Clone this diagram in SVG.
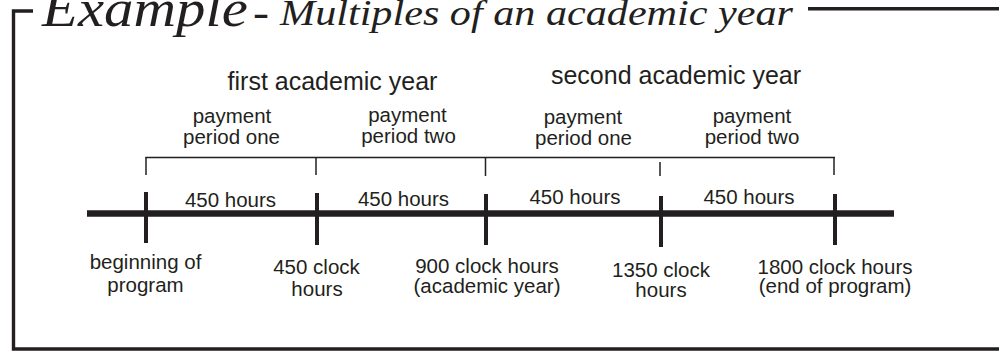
<svg xmlns="http://www.w3.org/2000/svg" width="999" height="352" viewBox="0 0 999 352">
  <style>
    .ink { fill: #231f20; }
    .lbl { font-family: "Liberation Sans", Arial, sans-serif; font-size: 20.5px; fill: #231f20; text-anchor: middle; }
    .year { font-family: "Liberation Sans", Arial, sans-serif; font-size: 25px; fill: #231f20; text-anchor: middle; }
    .title { font-family: "Liberation Serif", "Times New Roman", serif; font-style: italic; fill: #231f20; }
    .frame { stroke: #231f20; stroke-width: 3.4; fill: none; }
    .axis { stroke: #231f20; stroke-width: 6.5; fill: none; }
    .tick { stroke: #231f20; stroke-width: 4; fill: none; }
    .brace { stroke: #231f20; stroke-width: 1.5; fill: none; }
  </style>

  <rect width="999" height="352" fill="#ffffff"/>

  <!-- outer frame: open corner at top left, line continues right of the title -->
  <g id="frame">
    <polyline class="frame" points="33,11 13.5,11 13.5,349 999,349"/>
    <line class="frame" x1="808" y1="8.8" x2="999" y2="8.8"/>
  </g>

  <!-- heading -->
  <g id="title">
    <text class="title" x="42" y="26" font-size="52" textLength="206" lengthAdjust="spacingAndGlyphs">Example</text>
    <text class="title" x="253" y="27" font-size="44" textLength="16" lengthAdjust="spacingAndGlyphs">-</text>
    <text class="title" x="280" y="25" font-size="35" textLength="513" lengthAdjust="spacingAndGlyphs">Multiples of an academic year</text>
  </g>

  <!-- time axis, milestone ticks and payment-period bracket -->
  <g id="connectors">
    <line class="axis" x1="87" y1="213.5" x2="894" y2="213.5"/>
    <line class="tick" x1="146" y1="192" x2="146" y2="243"/>
    <line class="tick" x1="317" y1="193" x2="317" y2="245"/>
    <line class="tick" x1="486" y1="194" x2="486" y2="245"/>
    <line class="tick" x1="661" y1="196" x2="661" y2="247"/>
    <line class="tick" x1="835" y1="194" x2="835" y2="245"/>

    <line class="brace" x1="145.5" y1="157.5" x2="835" y2="157.5"/>
    <line class="brace" x1="146" y1="157" x2="146" y2="175"/>
    <line class="brace" x1="316" y1="157" x2="316" y2="175"/>
    <line class="brace" x1="485.5" y1="157" x2="485.5" y2="176"/>
    <line class="brace" x1="660" y1="162" x2="660" y2="176"/>
    <line class="brace" x1="834" y1="157" x2="834" y2="175"/>
  </g>

  <!-- academic years -->
  <g id="year-1"><text class="year" x="332.5" y="90">first academic year</text></g>
  <g id="year-2"><text class="year" x="676" y="83.5">second academic year</text></g>

  <!-- payment periods -->
  <g id="period-1a">
    <text class="lbl" x="232" y="123">payment</text>
    <text class="lbl" x="231.5" y="143.5">period one</text>
  </g>
  <g id="period-1b">
    <text class="lbl" x="407.5" y="121.5">payment</text>
    <text class="lbl" x="408.5" y="142.5">period two</text>
  </g>
  <g id="period-2a">
    <text class="lbl" x="583" y="123.5">payment</text>
    <text class="lbl" x="583.5" y="144.5">period one</text>
  </g>
  <g id="period-2b">
    <text class="lbl" x="752" y="123">payment</text>
    <text class="lbl" x="752" y="144">period two</text>
  </g>

  <!-- hours per segment -->
  <g id="seg-1"><text class="lbl" x="230.5" y="206.5">450 hours</text></g>
  <g id="seg-2"><text class="lbl" x="403.5" y="206">450 hours</text></g>
  <g id="seg-3"><text class="lbl" x="575" y="204">450 hours</text></g>
  <g id="seg-4"><text class="lbl" x="749" y="204">450 hours</text></g>

  <!-- milestones -->
  <g id="m-0">
    <text class="lbl" x="145.5" y="269">beginning of</text>
    <text class="lbl" x="145.5" y="292">program</text>
  </g>
  <g id="m-450">
    <text class="lbl" x="316.5" y="273.5">450 clock</text>
    <text class="lbl" x="317" y="295.5">hours</text>
  </g>
  <g id="m-900">
    <text class="lbl" x="487" y="272.5">900 clock hours</text>
    <text class="lbl" x="487" y="293">(academic year)</text>
  </g>
  <g id="m-1350">
    <text class="lbl" x="661" y="276.5">1350 clock</text>
    <text class="lbl" x="661" y="297">hours</text>
  </g>
  <g id="m-1800">
    <text class="lbl" x="835" y="274">1800 clock hours</text>
    <text class="lbl" x="835" y="293">(end of program)</text>
  </g>
</svg>
